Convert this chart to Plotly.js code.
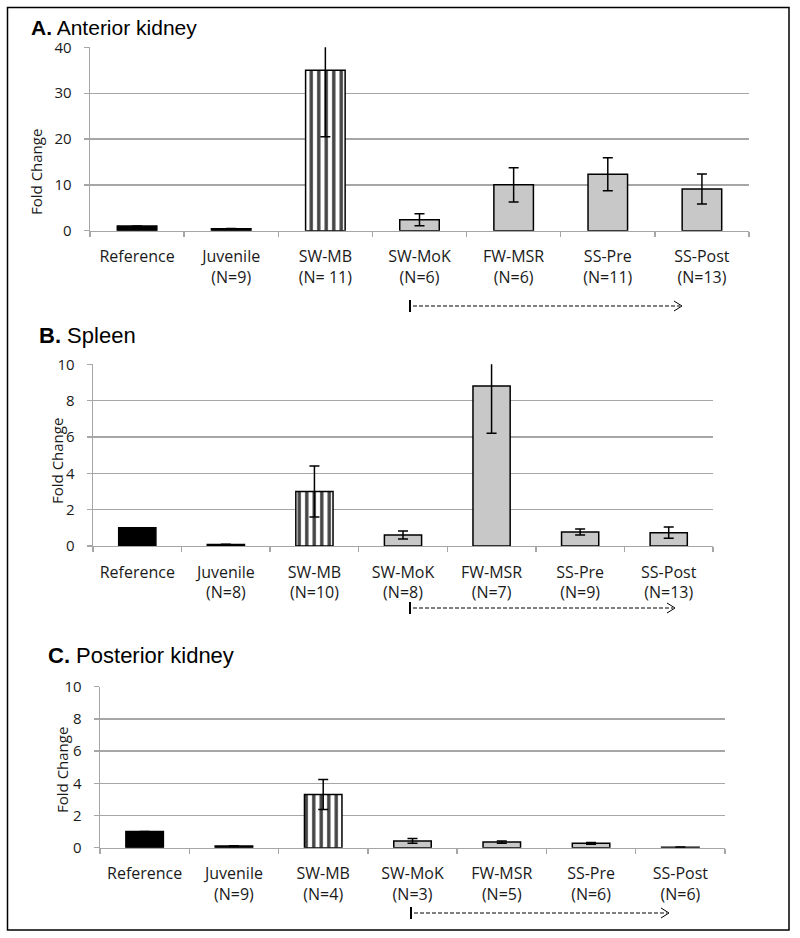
<!DOCTYPE html>
<html>
<head>
<meta charset="utf-8">
<script src="https://cdn.plot.ly/plotly-3.0.1.min.js"></script>
<style>
  html, body { margin: 0; padding: 0; background: #fff; }
  #chart { width: 800px; height: 938px; }
</style>
</head>
<body>
<div id="chart"></div>
<script>
// ---- data ----
const categories = ["Reference", "Juvenile", "SW-MB", "SW-MoK", "FW-MSR", "SS-Pre", "SS-Post"];

const nA = ["", "(N=9)", "(N= 11)", "(N=6)", "(N=6)", "(N=11)", "(N=13)"];
const nB = ["", "(N=8)", "(N=10)", "(N=8)", "(N=7)", "(N=9)", "(N=13)"];
const nC = ["", "(N=9)", "(N=4)", "(N=3)", "(N=5)", "(N=6)", "(N=6)"];

const valuesA = [1.0, 0.4, 35.0, 2.4, 10.0, 12.3, 9.1];
const errorsA = [0, 0.1, 14.5, 1.3, 3.75, 3.6, 3.25];

const valuesB = [1.0, 0.08, 3.0, 0.6, 8.8, 0.77, 0.73];
const errorsB = [0, 0.02, 1.4, 0.22, 2.6, 0.17, 0.31];

const valuesC = [1.0, 0.1, 3.3, 0.42, 0.35, 0.27, 0.03];
const errorsC = [0, 0.02, 0.93, 0.15, 0.07, 0.06, 0.01];

const panelTitles = ["<b>A.</b> Anterior kidney", "<b>B.</b> Spleen", "<b>C.</b> Posterior kidney"];
const yTitle = "Fold Change";

// ---- styles ----
const W = 800, H = 938;
const px = v => v / W;
const py = v => 1 - v / H;

const barColors = ["#000000", "#000000", "#ffffff", "#c8c8c8", "#c8c8c8", "#c8c8c8", "#c8c8c8"];
const patShapes = ["", "", "|", "", "", "", ""];

function barTrace(vals, errs, xa, ya) {
  return {
    type: "bar",
    x: categories,
    y: vals,
    xaxis: xa, yaxis: ya,
    marker: {
      color: barColors,
      line: { color: "#000", width: 1.5 },
      pattern: { shape: patShapes, fgcolor: "#000", bgcolor: "#fff", fgopacity: 1, size: 7.5, solidity: 0.45, fillmode: "overlay" }
    },
    error_y: { type: "data", array: errs, visible: true, color: "#000", thickness: 1.5, width: 5 },
    hoverinfo: "none",
    showlegend: false
  };
}

function tickText(ns) {
  return categories.map((c, i) => ns[i] ? c + "<br>" + ns[i] : c);
}

const gridCol = "#a6a6a6";
const tickFont = { family: "Open Sans, sans-serif", size: 16, color: "#1a1a1a" };

function xAxis(domain, anchor, ns) {
  return {
    domain: domain, anchor: anchor, type: "category",
    tickmode: "array", tickvals: categories, ticktext: tickText(ns),
    tickson: "boundaries", ticks: "outside", ticklen: 5, tickcolor: gridCol, tickwidth: 1.3,
    showline: true, linecolor: gridCol, linewidth: 1.3,
    showgrid: false, zeroline: false,
    tickfont: tickFont, ticklabelstandoff: 11,
    range: [-0.5, 6.5], fixedrange: true
  };
}

function yAxis(domain, anchor, range, dtick) {
  return {
    domain: domain, anchor: anchor, range: range, dtick: dtick,
    ticks: "outside", ticklen: 5, tickcolor: gridCol, tickwidth: 1.3,
    showline: true, linecolor: gridCol, linewidth: 1.3,
    showgrid: true, gridcolor: gridCol, gridwidth: 1.3, zeroline: false,
    tickfont: { family: "Open Sans, sans-serif", size: 15, color: "#1a1a1a" },
    ticklabelstandoff: 9, fixedrange: true
  };
}

const data = [
  barTrace(valuesA, errorsA, "x", "y"),
  barTrace(valuesB, errorsB, "x2", "y2"),
  barTrace(valuesC, errorsC, "x3", "y3")
];

const titleFont = { family: "Liberation Sans, Arial, sans-serif", size: 22, color: "#000" };
const titleFontA = { family: "Liberation Sans, Arial, sans-serif", size: 21, color: "#000" };
const yTitleFont = { family: "Open Sans, sans-serif", size: 15, color: "#1a1a1a" };

const annotations = [
  { text: panelTitles[0], x: px(29), y: py(27.5), xref: "paper", yref: "paper", xanchor: "left", yanchor: "middle", showarrow: false, font: titleFontA },
  { text: panelTitles[1], x: px(37), y: py(336), xref: "paper", yref: "paper", xanchor: "left", yanchor: "middle", showarrow: false, font: titleFont },
  { text: panelTitles[2], x: px(46), y: py(655), xref: "paper", yref: "paper", xanchor: "left", yanchor: "middle", showarrow: false, font: titleFont },
  { text: yTitle, textangle: -90, x: px(36), y: py(172), xref: "paper", yref: "paper", xanchor: "center", yanchor: "middle", showarrow: false, font: yTitleFont },
  { text: yTitle, textangle: -90, x: px(57), y: py(461), xref: "paper", yref: "paper", xanchor: "center", yanchor: "middle", showarrow: false, font: yTitleFont },
  { text: yTitle, textangle: -90, x: px(62), y: py(770), xref: "paper", yref: "paper", xanchor: "center", yanchor: "middle", showarrow: false, font: yTitleFont }
];

// dashed bracket arrows below the x axes
function bracket(x0, x1, yc) {
  return [
    { type: "line", xref: "paper", yref: "paper", x0: px(x0), x1: px(x0), y0: py(yc - 6), y1: py(yc + 6), line: { color: "#000", width: 2 } },
    { type: "line", xref: "paper", yref: "paper", x0: px(x0 + 3), x1: px(x1 - 2), y0: py(yc), y1: py(yc), line: { color: "#000", width: 1, dash: "4px,2px" } },
    { type: "path", xref: "paper", yref: "paper",
      path: `M ${px(x1 - 8)} ${py(yc - 5)} L ${px(x1)} ${py(yc)} L ${px(x1 - 8)} ${py(yc + 5)}`,
      line: { color: "#000", width: 1 } }
  ];
}

const shapes = [
  { type: "rect", xref: "paper", yref: "paper", x0: px(7.5), x1: px(789), y0: py(7.5), y1: py(930), line: { color: "#000", width: 1.5 } },
  ...bracket(410, 682, 306),
  ...bracket(410, 675, 608),
  ...bracket(411, 669, 913)
];

const layout = {
  width: W, height: H,
  margin: { l: 0, r: 0, t: 0, b: 0 },
  paper_bgcolor: "#fff", plot_bgcolor: "#fff",
  bargap: 0.58,
  xaxis:  xAxis([px(90),  px(749)], "y",  nA),
  yaxis:  yAxis([py(230.7), py(47.3)], "x", [0, 40], 10),
  xaxis2: xAxis([px(93),  px(713)], "y2", nB),
  yaxis2: yAxis([py(546), py(364.3)], "x2", [0, 10], 2),
  xaxis3: xAxis([px(100), px(725)], "y3", nC),
  yaxis3: yAxis([py(847.7), py(686.7)], "x3", [0, 10], 2),
  annotations: annotations,
  shapes: shapes,
  showlegend: false
};

Plotly.newPlot("chart", data, layout, { displayModeBar: false, staticPlot: true });
</script>
</body>
</html>
